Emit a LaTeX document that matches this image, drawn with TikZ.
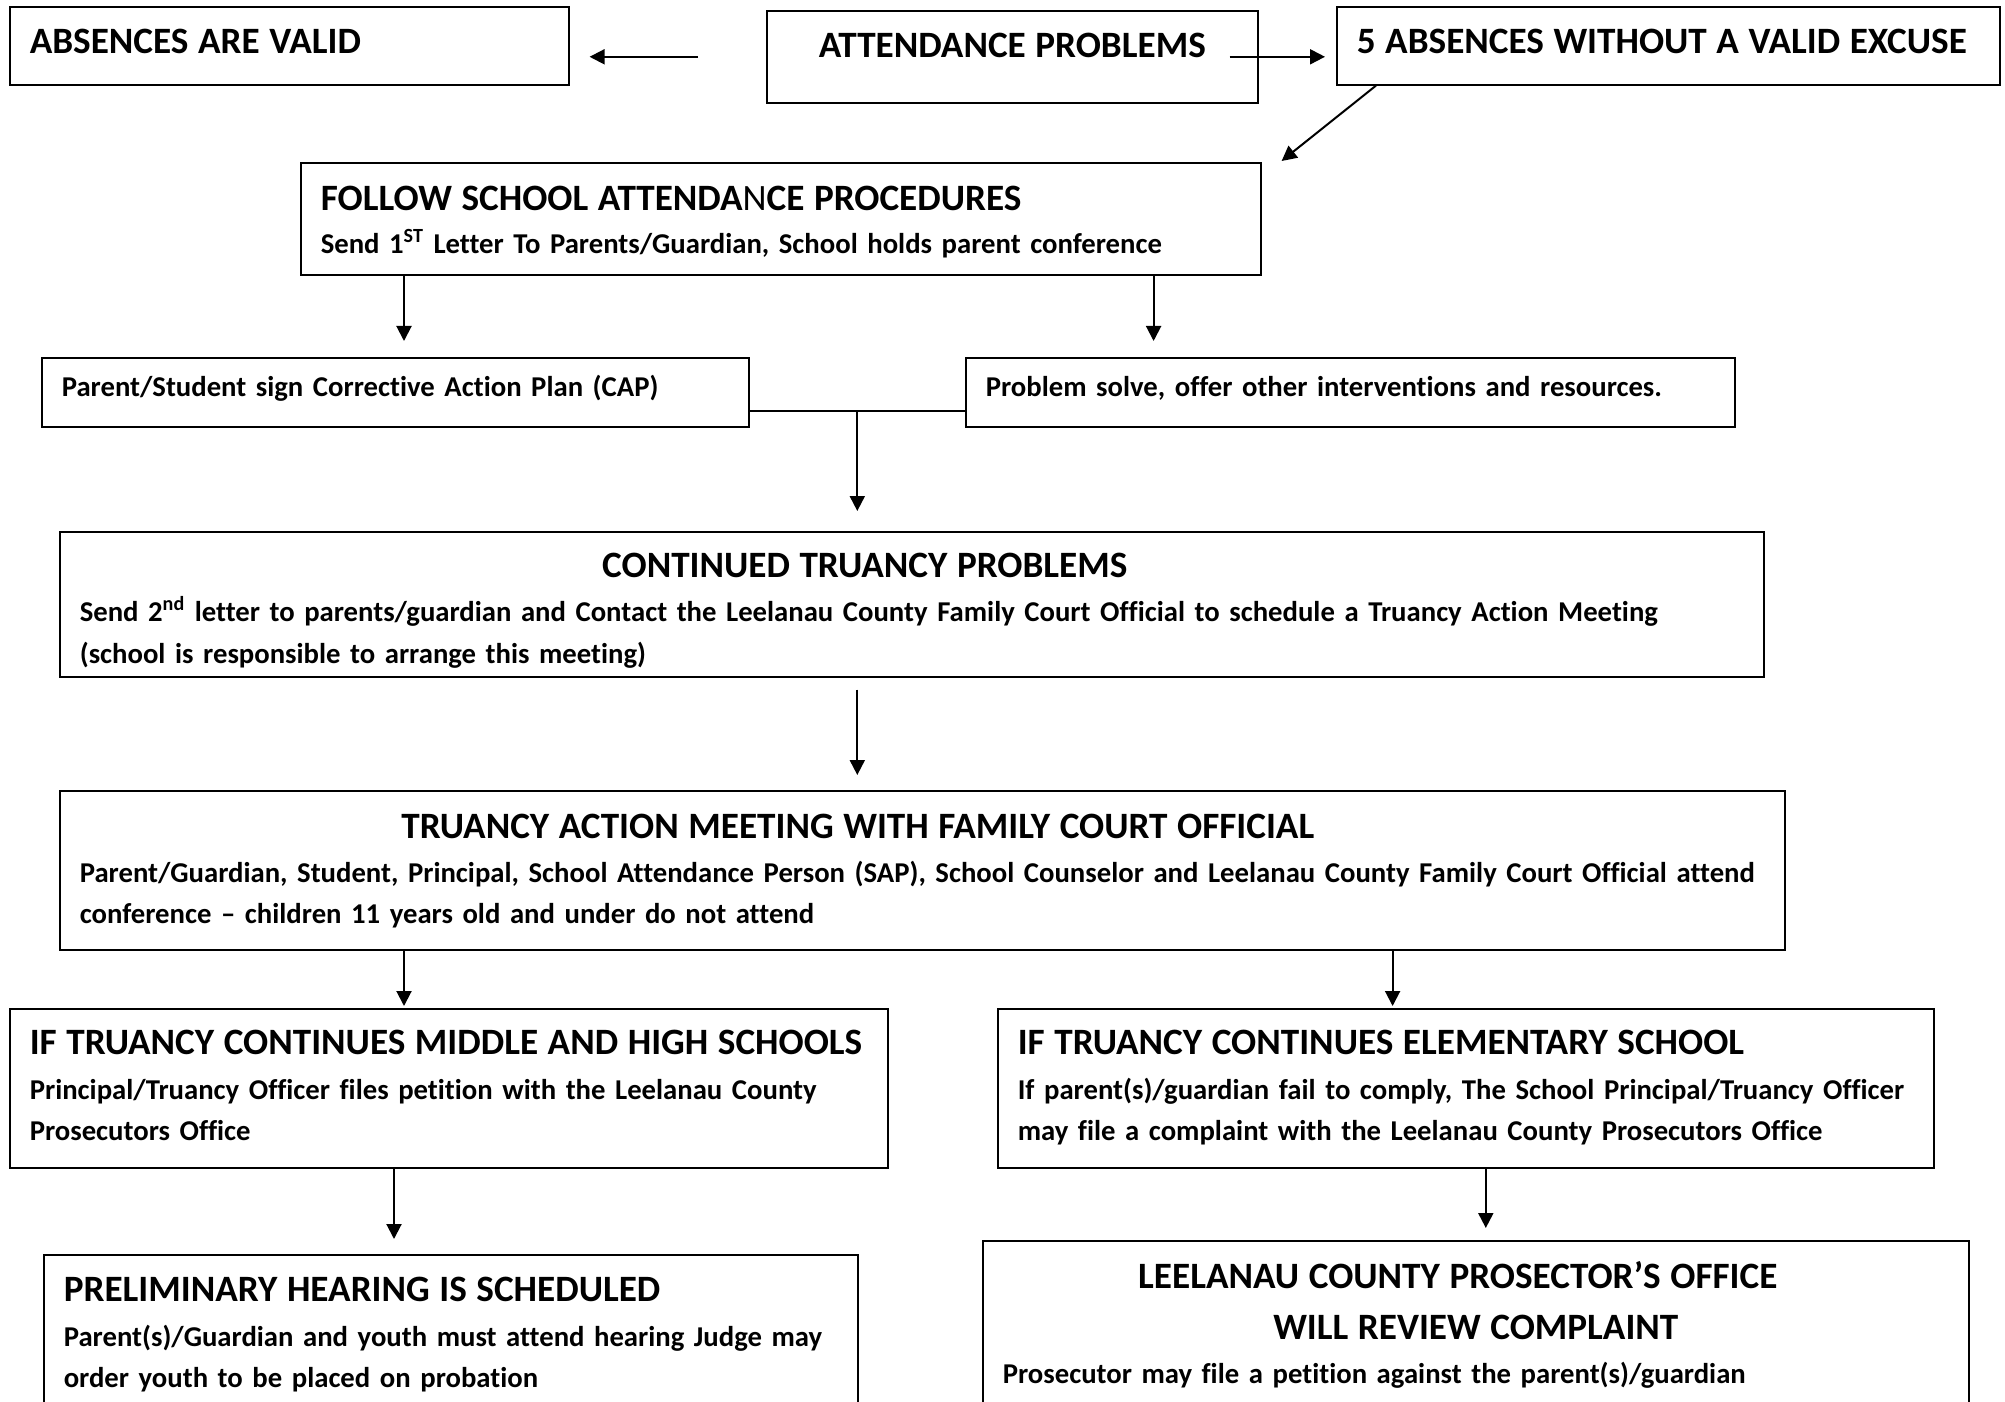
\documentclass[tikz,border=0pt]{standalone}
\usepackage{fontspec}
\setmainfont{Carlito}[Ligatures={TeX,NoCommon}]
\usetikzlibrary{arrows.meta, positioning, calc}
\newcommand{\ttl}{\fontsize{18.6}{20.5}\selectfont}
\newcommand{\bdy}{\fontsize{14.35}{20.5}\selectfont}
\hyphenpenalty=10000
\exhyphenpenalty=10000

\begin{document}
\begin{tikzpicture}[
  x=0.5pt, y=-0.5pt,
  font=\bdy\bfseries,
  box/.style={draw, line width=0.8pt, anchor=north west, align=left,
              inner xsep=10pt, inner ysep=0pt},
  a/.style={-{Triangle[length=7.5pt, width=7.5pt]}, line width=1pt},
  ln/.style={line width=0.8pt}
]
\useasboundingbox (0,0) rectangle (2005,1401);
\clip (0,0) rectangle (2005,1401);

% ---------- top row ----------
\node[box, text width=259.5pt, text height=23.5pt, text depth=15.5pt] (valid) at (9,6)
  {\ttl ABSENCES ARE VALID};
\node[box, align=center, text width=225.5pt, text height=23.5pt, text depth=22.5pt]
  (attend) at (766,10) {\ttl ATTENDANCE PROBLEMS};
\node[box, text width=311.5pt, text height=23.5pt, text depth=15.5pt] (fiveabs) at (1336,6)
  {\ttl 5 ABSENCES WITHOUT A VALID EXCUSE};

\draw[a, shorten <=34pt, shorten >=10pt] (attend.west) -- (attend.west -| valid.east);
\draw[a, shorten <=-14.5pt, shorten >=5.5pt] (attend.east) -- (attend.east -| fiveabs.west);

% ---------- school steps ----------
\node[box, text width=460pt, text height=24pt, text depth=32pt] (follow) at (300,162)
  {{\ttl FOLLOW SCHOOL ATTENDA{\mdseries N}CE PROCEDURES}\\[0.7pt]
   Send 1\textsuperscript{ST} Letter To Parents/Guardian, School holds parent conference};
\draw[a] ($(fiveabs.south west)+(40,0)$) -- ($(follow.north east)+(20,-1)$);

\node[box, text width=333.5pt, text height=19.5pt, text depth=15pt] (cap) at (41,357)
  {Parent/Student sign Corrective Action Plan (CAP)};
\node[box, text width=364.5pt, text height=19.5pt, text depth=15pt] (prob) at (965,357)
  {Problem solve, offer other interventions and resources.};

\coordinate (f1) at ($(follow.south west)+(104,0)$);
\coordinate (f2) at ($(follow.south east)+(-108,0)$);
\draw[a, shorten >=8pt] (f1) -- (f1 |- cap.north);
\draw[a, shorten >=8pt] (f2) -- (f2 |- prob.north);

% ---------- court steps ----------
\node[box, text width=832pt, text height=23pt, text depth=49.5pt] (cont) at (59,531)
  {{\ttl\makebox[785pt]{CONTINUED TRUANCY PROBLEMS}}\\[1.2pt]
   Send 2\textsuperscript{nd} letter to parents/guardian and Contact the Leelanau County Family Court Official to schedule a Truancy Action Meeting\\[0.5pt]
   (school is responsible to arrange this meeting)};
\node[box, text width=842.5pt, text height=24pt, text depth=55.5pt] (tam) at (59,790)
  {{\ttl\makebox[778pt]{TRUANCY ACTION MEETING WITH FAMILY COURT OFFICIAL}}\\[1.2pt]
   Parent/Guardian, Student, Principal, School Attendance Person (SAP), School Counselor and Leelanau County Family Court Official attend\\
   conference – children 11 years old and under do not attend};

\coordinate (j) at ($(cap.east)!0.5!(prob.west)+(0,18.5)$);
\draw[ln] (cap.east |- j) -- (prob.west |- j);
\draw[a, shorten >=10pt] (j) -- (j |- cont.north);
\draw[a, shorten <=6pt, shorten >=7.5pt] (j |- cont.south) -- (j |- tam.north);

% ---------- two branches ----------
\node[box, text width=419pt, text height=23pt, text depth=56.5pt] (mid) at (9,1008)
  {{\ttl IF TRUANCY CONTINUES MIDDLE AND HIGH SCHOOLS}\\[1.7pt]
   Principal/Truancy Officer files petition with the Leelanau County\\
   Prosecutors Office};
\node[box, text width=448pt, text height=23pt, text depth=56.5pt] (elem) at (997,1008)
  {{\ttl IF TRUANCY CONTINUES ELEMENTARY SCHOOL}\\[1.7pt]
   If parent(s)/guardian fail to comply, The School Principal/Truancy Officer\\
   may file a complaint with the Leelanau County Prosecutors Office};

\coordinate (t2) at ($(tam.south east)+(-393,0)$);
\draw[a, shorten >=1pt] (f1 |- tam.south) -- (f1 |- mid.north);
\draw[a, shorten >=1pt] (t2) -- (t2 |- elem.north);

\node[box, text width=387pt, text height=23.5pt, text depth=55.5pt] (prelim) at (43,1254)
  {{\ttl PRELIMINARY HEARING IS SCHEDULED}\\[1.7pt]
   Parent(s)/Guardian and youth must attend hearing Judge may\\
   order youth to be placed on probation};
\node[box, text width=473pt, text height=24pt, text depth=61pt] (leel) at (982,1240)
  {{\ttl\makebox[455pt]{LEELANAU COUNTY PROSECTOR’S OFFICE}}\\[5pt]
   {\ttl\makebox[473pt]{WILL REVIEW COMPLAINT}}\\[1.5pt]
   Prosecutor may file a petition against the parent(s)/guardian};

\coordinate (m1) at ($(mid.south west)+(385,0)$);
\coordinate (e1) at ($(elem.south)+(20,0)$);
\draw[a, shorten >=7.5pt] (m1) -- (m1 |- prelim.north);
\draw[a, shorten >=6pt] (e1) -- (e1 |- leel.north);

\end{tikzpicture}
\end{document}
